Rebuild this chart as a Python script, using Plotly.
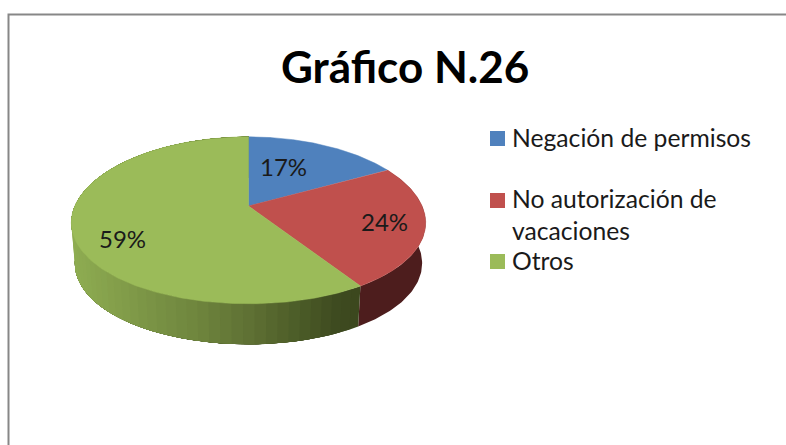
import numpy as np
import plotly.graph_objects as go

# ---- data ----
categories = ["Negación de permisos", "No autorización de<br>vacaciones", "Otros"]
values = [17, 24, 59]
colors = ["#4F81BD", "#C0504D", "#9BBB59"]
title_text = "Gráfico N.26"

# ---- pie geometry (pixel space, perspective projection of a disc) ----
CX, CY, A, B, KX, KY = 248.5, 206, 173.6, 81, 0.2, 0.1716
DEPTH, SHRINK = 40.5, 0.98
FONT = "Lato, Carlito, Calibri, sans-serif"

def project(theta, drop=0.0, scale=1.0):
    u, v = np.sin(theta), np.cos(theta)
    return CX + A * scale * u / (1 + KX * v), CY + drop - B * v / (1 + KY * v)

def lerp_colour(x, stops):
    xs = [s[0] for s in stops]
    return "rgb(%d,%d,%d)" % tuple(np.interp(x, xs, [s[1][i] for s in stops]) for i in range(3))

GREEN_WALL = [(72, (143, 173, 82)), (160, (120, 145, 68)), (193, (112, 135, 62)), (250, (95, 113, 52)),
              (300, (76, 92, 40)), (340, (62, 74, 32)), (362, (60, 72, 30))]
RED_WALL = [(360, (74, 28, 28)), (426, (78, 30, 30))]

fracs = np.cumsum([0] + values) / sum(values) * 2 * np.pi
fig = go.Figure()

def poly(xs, ys, colour, line=0.0):
    fig.add_trace(go.Scatter(x=xs, y=ys, mode="lines", fill="toself", fillcolor=colour,
                             line=dict(color=colour, width=line), hoverinfo="skip", showlegend=False))

# side wall: overlapping strips, painted back to front, so no seams show between them
for i, stops in ((1, RED_WALL), (2, GREEN_WALL)):
    t0, t1 = fracs[i], fracs[i + 1]
    edges = np.linspace(t0, t1, 70 if i == 2 else 2)
    for a, b in zip(edges[:-1], edges[1:]):
        # each strip runs on to the end of the slice; the next one paints over it
        tt = np.linspace(a, t1, 80)
        x1, y1 = project(tt)
        x2, y2 = project(tt[::-1], drop=DEPTH, scale=SHRINK)
        poly(np.r_[x1, x2], np.r_[y1, y2], lerp_colour(float(project(a + (b - a) / 2)[0]), stops))

# top face
for i, c in enumerate(colors):
    tt = np.linspace(fracs[i], fracs[i + 1], 240)
    x, y = project(tt)
    poly(np.r_[CX, x, CX], np.r_[CY, y, CY], c, 0.5)

# value labels, placed along each slice
label_pos = [(283, 166), (384.5, 221), (122, 238)]
for v, (lx, ly) in zip(values, label_pos):
    fig.add_annotation(x=lx, y=ly, text=f"{v}%", showarrow=False,
                       font=dict(family=FONT, size=24, color="#1a1a1a"))

# legend
leg_y = [138.5, 200.5, 261.5]
text_y = [137.5, 214.5, 260.5]
for cat, c, my, ty in zip(categories, colors, leg_y, text_y):
    fig.add_trace(go.Scatter(x=[497.5], y=[my], mode="markers", hoverinfo="skip", showlegend=False,
                             marker=dict(symbol="square", size=15, color=c)))
    fig.add_annotation(x=509.5, y=ty, text=cat, showarrow=False, xanchor="left", align="left",
                       font=dict(family=FONT, size=24.7, color="#1a1a1a"))

fig.add_annotation(x=405, y=65.5, text=f"<b>{title_text}</b>", showarrow=False,
                   font=dict(family=FONT, size=44, color="#000000"))

# chart frame (runs off the right and bottom of the crop)
fig.add_shape(type="path", path="M 8.5 445 L 8.5 14.5 L 786 14.5", line=dict(color="#878787", width=2))

fig.update_xaxes(range=[0, 786], visible=False, fixedrange=True)
fig.update_yaxes(range=[445, 0], visible=False, fixedrange=True)
fig.update_layout(width=786, height=445, margin=dict(l=0, r=0, t=0, b=0),
                  paper_bgcolor="white", plot_bgcolor="white", showlegend=False)
fig.write_html("out.html", config=dict(displayModeBar=False),
               post_script="document.body.style.margin='0';document.documentElement.style.overflow='hidden';")
